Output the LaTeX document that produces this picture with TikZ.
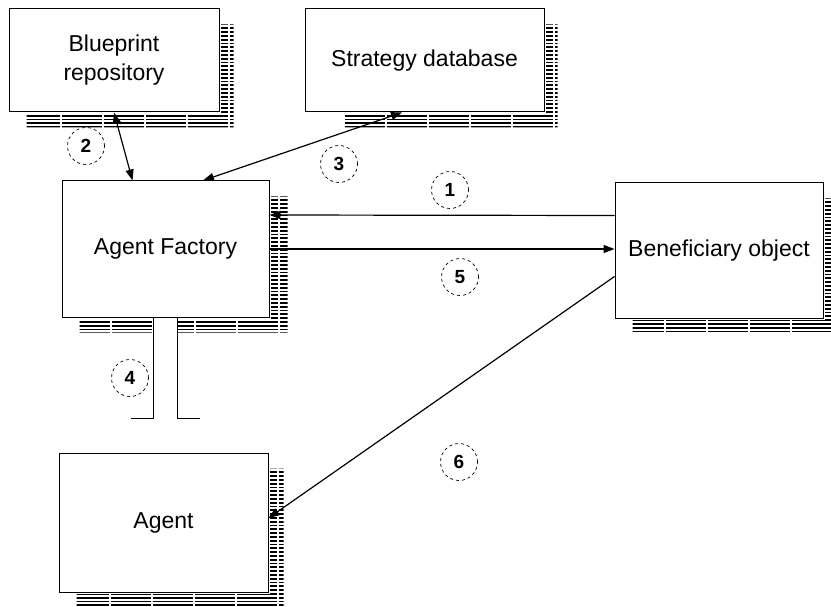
\documentclass[tikz,border=0pt]{standalone}
\usepackage{fontspec}
\setmainfont{Liberation Sans}
\usetikzlibrary{arrows.meta,calc}
\begin{document}
\begin{tikzpicture}[x=1pt,y=-1pt,
  box/.style={draw, line width=1pt, fill=white, inner sep=0pt, font=\fontsize{23}{29}\selectfont, align=center},
  num/.style={circle, draw, dash pattern=on 3pt off 3pt, line width=0.7pt, minimum size=37pt, inner sep=0pt, font=\fontsize{19}{19}\selectfont\bfseries},
  conn/.style={line width=1.2pt},
  arr/.style={conn, -{Triangle[length=11pt,width=8pt]}},
  darr/.style={conn, {Triangle[length=11pt,width=8pt]}-{Triangle[length=11pt,width=8pt]}},
  hatch/.style={line width=1.8pt, dash pattern=on 40pt off 2pt}
]
\useasboundingbox (0,0) rectangle (831,607);

% boxes
\node[box, minimum width=210pt, minimum height=103pt] (bp) at (114,60.5) {Blueprint\\repository};
\node[box, minimum width=239pt, minimum height=103pt] (sd) at (424.5,60.5) {Strategy database};
\node[box, minimum width=207pt, minimum height=136pt] (af) at (165.5,249) {Agent Factory};
\node[box, minimum width=208pt, minimum height=135pt] (bo) at (719,250.5) {Beneficiary object};
\node[box, minimum width=209pt, minimum height=139pt] (ag) at (163.5,522.5) {Agent};

% hatched shadows
\foreach \b/\w in {bp/14, sd/13, af/18, bo/16, ag/15}{
  \begin{scope}
    \clip ([xshift=1.5pt,yshift=-16pt]\b.north east) rectangle ([xshift=\w pt,yshift=-15pt]\b.south east)
          ([xshift=18pt,yshift=-1.5pt]\b.south west) rectangle ([xshift=\w pt,yshift=-15pt]\b.south east);
    \foreach \k in {0,...,40}{
      \draw[hatch] ([xshift=-200pt,yshift=-16pt-3.8*\k pt]\b.north east) -- ++(240,0);
    }
  \end{scope}
}

% connector 4 (broad stem) interrupts the shadow
\fill[white] ([xshift=-12pt,yshift=-1pt]af.south) rectangle ([xshift=12pt,yshift=-16pt]af.south);
\draw[conn] ([xshift=-12pt]af.south) |- ([xshift=-35pt,yshift=34pt]af.south |- ag.north);
\draw[conn] ([xshift=12pt]af.south) |- ([xshift=34pt,yshift=34pt]af.south |- ag.north);

% connectors
\draw[darr] (bp.south) -- ([xshift=-33pt]af.north);
\draw[darr] ([xshift=37.5pt]af.north) -- ([xshift=-22.5pt]sd.south);
\draw[arr] ([yshift=35pt]bo.west) -- ([yshift=34pt]af.east);
\draw[arr] (af.east) -- (af.east -| bo.west);
\draw[arr] ([yshift=-26pt]bo.west) -- ([yshift=4.5pt]ag.east);

% numbered labels
\node[num] (n1) at (450,190) {1};
\node[num] (n2) at (86,146) {2};
\node[num] (n3) at (339,164) {3};
\node[num] (n4) at (130,378) {4};
\node[num] (n5) at (460,277) {5};
\node[num] (n6) at (459,462) {6};
\end{tikzpicture}
\end{document}
